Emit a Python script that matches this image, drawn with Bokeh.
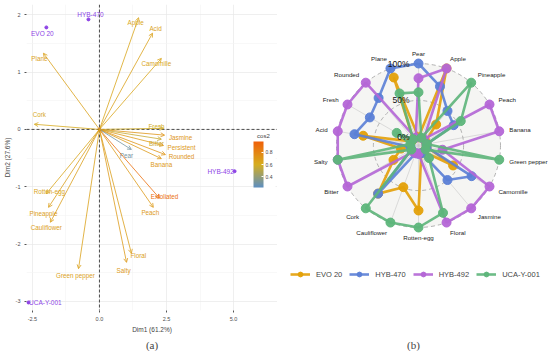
import numpy as np
from bokeh.plotting import figure
from bokeh.models import (ColumnDataSource, Arrow, OpenHead, Span, FixedTicker, ColorBar,
                          LinearColorMapper, Title, Legend, LegendItem, Label)
from bokeh.transform import transform
from bokeh.layouts import row
from bokeh.embed import file_html
from bokeh.resources import INLINE
from bokeh.core.properties import value

# ---------------- Panel (a): PCA biplot data ----------------
var_names = ["Apple", "Acid", "Camomille", "Plane", "Cork", "Fresh", "Jasmine", "Bitter",
             "Persistent", "Rounded", "Banana", "Pear", "Exfoliated", "Peach", "Floral",
             "Salty", "Green pepper", "Rotten-egg", "Pineapple", "Cauliflower"]
var_dim1 = [1.46, 1.98, 2.31, -2.09, -2.43, 2.39, 2.43, 2.31, 2.39, 2.46, 2.31, 1.19,
            2.24, 2.01, 1.19, 1.01, -0.78, -1.98, -1.90, -1.83]
var_dim2 = [1.95, 1.68, 1.24, 1.33, 0.09, 0.02, -0.10, -0.17, -0.28, -0.44, -0.51, -0.35,
            -1.20, -1.36, -2.16, -2.32, -2.43, -1.12, -1.36, -1.62]
var_cos2 = [0.64, 0.66, 0.64, 0.66, 0.62, 0.58, 0.72, 0.55, 0.70, 0.72, 0.70, 0.30,
            0.90, 0.70, 0.68, 0.70, 0.66, 0.64, 0.68, 0.68]

ind_names = ["EVO 20", "HYB-470", "HYB-492", "UCA-Y-001"]
ind_dim1 = [-1.98, -0.41, 5.04, -2.65]
ind_dim2 = [1.78, 1.92, -0.73, -3.02]

x_ticks = [-2.5, 0.0, 2.5, 5.0]
x_tick_labels = ["-2.5", "0.0", "2.5", "5.0"]
x_minor = [-1.25, 1.25, 3.75]
y_ticks = [-3, -2, -1, 0, 1, 2]
y_tick_labels = ["-3", "-2", "-1", "0", "1", "2"]
y_minor = [-2.5, -1.5, -0.5, 0.5, 1.5]
cb_ticks = [0.4, 0.6, 0.8]
cos2_low, cos2_high = 0.22, 0.98

# label offsets (screen px) for repelled text
var_dx = [-3, 3, -5, -4, 5, -7, 16, -5, 18, 16, 0, -5, 5, -3, 7, -3, -3, 3, -5, -4]
var_dy = [5, -5, 5, 5, -10, -2, 2, 4, 2, 2, 6, 6, -2, 5, 2, 8, 7, -2, 6, 5]
ind_dx = [-4, 2, -14, 17]
ind_dy = [6, -5, 0, 0]

# ---------------- Panel (b): radar data ----------------
radar_axes = ["Pear", "Apple", "Pineapple", "Peach", "Banana", "Green pepper", "Camomille",
              "Jasmine", "Floral", "Rotten-egg", "Cauliflower", "Cork", "Bitter", "Salty",
              "Acid", "Fresh", "Rounded", "Plane"]
series_names = ["EVO 20", "HYB-470", "HYB-492", "UCA-Y-001"]
evo20 = [0, 1.0, 0.26, 0, 0, 0, 0.43, 0, 0, 0.77, 0.49, 0.74, 0.28, 0.13, 0.65, 0, 0, 0.87]
hyb470 = [1.0, 0.74, 0.50, 0.44, 0, 0, 0.72, 0.50, 0, 0, 0, 0.74, 0, 0, 0.77, 0.65, 0.73, 1.0]
hyb492 = [0.80, 1.0, 0, 1.0, 1.0, 0.22, 1.0, 1.0, 1.0, 0, 0, 0, 1.0, 1.0, 1.0, 1.0, 1.0, 0]
uca = [0.61, 0, 1.0, 0.55, 0, 1.0, 0, 0.11, 0.86, 1.0, 1.0, 1.0, 0, 1.0, 0, 0.23, 0, 0.64]
grid_levels = [0.0, 0.5, 1.0]
grid_labels = ["0%", "50%", "100%"]
series_colors = ["#E3A008", "#5B7FD6", "#B466D6", "#5DB57A"]

FONT = "Liberation Sans"
FRAME_H = 306
TOP = 4


def gradient(colors, n=256):
    cs = [tuple(int(c[i:i + 2], 16) for i in (1, 3, 5)) for c in colors]
    out = []
    for k in range(n):
        t = k / (n - 1) * (len(cs) - 1)
        i = min(int(t), len(cs) - 2)
        f = t - i
        rgb = [round(cs[i][j] + (cs[i + 1][j] - cs[i][j]) * f) for j in range(3)]
        out.append("#%02x%02x%02x" % tuple(rgb))
    return out


palette = gradient(["#5C8FC2", "#D6AE1E", "#F0600A"])
mapper = LinearColorMapper(palette=palette, low=cos2_low, high=cos2_high)


def style_axis(ax, ticks, minor, labels):
    ax.ticker = FixedTicker(ticks=ticks, minor_ticks=minor)
    ax.major_label_overrides = {t: l for t, l in zip(ticks, labels)}
    ax.axis_line_color = None
    ax.major_tick_line_color = "#555555"
    ax.major_tick_out = 2
    ax.major_tick_in = 0
    ax.minor_tick_line_color = None
    ax.major_label_text_font_size = "5.5px"
    ax.major_label_text_color = "#4D4D4D"
    ax.major_label_text_font = FONT
    ax.major_label_standoff = 2
    ax.axis_label_text_font_size = "6.5px"
    ax.axis_label_text_font = FONT
    ax.axis_label_text_font_style = "normal"
    ax.axis_label_standoff = 2


# ---------------- Figure (a) ----------------
p1 = figure(frame_width=251, frame_height=FRAME_H, x_range=(-2.72, 6.64), y_range=(-3.16, 2.18),
            output_backend="svg", toolbar_location=None, title=None,
            min_border_left=0, min_border_right=0, min_border_top=TOP, min_border_bottom=0)
p1.outline_line_color = None
style_axis(p1.xaxis[0], x_ticks, x_minor, x_tick_labels)
style_axis(p1.yaxis[0], y_ticks, y_minor, y_tick_labels)
p1.xaxis.axis_label = "Dim1 (61.2%)"
p1.yaxis.axis_label = "Dim2 (27.6%)"

p1.xgrid.ticker = FixedTicker(ticks=x_ticks, minor_ticks=x_minor)
p1.ygrid.ticker = FixedTicker(ticks=y_ticks, minor_ticks=y_minor)
for g in (p1.xgrid[0], p1.ygrid[0]):
    g.grid_line_color = "#E8E8E8"
    g.grid_line_width = 0.7
    g.minor_grid_line_color = "#F3F3F3"
    g.minor_grid_line_width = 0.6

p1.add_layout(Span(location=0, dimension="height", line_color="#222222",
                   line_dash="3 2", line_width=0.8))
p1.add_layout(Span(location=0, dimension="width", line_color="#222222",
                   line_dash="3 2", line_width=0.8))

var_src = ColumnDataSource(dict(x=var_dim1, y=var_dim2, name=var_names, cos2=var_cos2,
                                dx=var_dx, dy=var_dy))
cmap = transform("cos2", mapper)
p1.add_layout(Arrow(end=OpenHead(size=4, line_width=0.8, line_color=cmap),
                    x_start=0, y_start=0, x_end="x", y_end="y", source=var_src,
                    line_color=cmap, line_width=0.8))
p1.text(x="x", y="y", text="name", source=var_src, text_color=cmap,
        x_offset="dx", y_offset="dy", text_align="center", text_baseline="middle",
        text_font_size="6.3px", text_font=value(FONT))
p1.scatter(x=[0], y=[0], size=3, color="#E05A5A")

ind_src = ColumnDataSource(dict(x=ind_dim1, y=ind_dim2, name=ind_names, dx=ind_dx, dy=ind_dy))
p1.scatter(x="x", y="y", source=ind_src, size=3, color="#8E44E6")
p1.text(x="x", y="y", text="name", source=ind_src, text_color="#8E44E6",
        x_offset="dx", y_offset="dy", text_align="center", text_baseline="middle",
        text_font_size="6.5px", text_font=value(FONT))

cb = ColorBar(color_mapper=mapper, ticker=FixedTicker(ticks=cb_ticks), width=10, height=46,
              title=None,
              major_label_text_font_size="5px", major_label_text_font=FONT,
              major_tick_line_color="white", major_tick_in=2, major_tick_out=0,
              label_standoff=2, padding=0, margin=0, bar_line_color=None,
              border_line_color=None, background_fill_color="white", background_fill_alpha=1,
              location=(227, 123))
p1.add_layout(cb, "center")
p1.add_layout(Label(x=5.88, y=-0.12, text="cos2", text_font=FONT, text_font_size="6px",
                    text_baseline="middle", text_align="left"))
p1.add_layout(Title(text="(a)", align="center", text_font="Liberation Serif",
                    text_font_size="11px", text_font_style="normal", offset=-12,
                    standoff=2), "below")

# ---------------- Figure (b) ----------------
S = 82.0               # px per radar unit
CX, CY = 141.0, 141.0  # radar centre inside the frame (px)
FW = 272
p2 = figure(frame_width=FW, frame_height=FRAME_H,
            x_range=(-CX / S, (FW - CX) / S), y_range=(CY / S - FRAME_H / S, CY / S),
            output_backend="svg", toolbar_location=None, y_axis_type=None,
            title=None,
            min_border_left=0, min_border_right=0, min_border_top=TOP, min_border_bottom=0)
p2.outline_line_color = None
p2.grid.visible = False
# invisible spacer axis so that "(b)" sits level with "(a)"
style_axis(p2.xaxis[0], [0.0], [], [" "])
p2.xaxis.major_tick_line_color = None
p2.xaxis.axis_label = " "

n = len(radar_axes)
theta = np.deg2rad(90 - 360.0 / n * np.arange(n))
centre = -1.0 / 9.0


def rad(v):
    return (np.asarray(v, dtype=float) - centre) / (1 - centre)


p2.circle(x=[0], y=[0], radius=float(rad(1.0)), fill_color="#D7D6D1", fill_alpha=0.25,
          line_color=None)
ax_r = float(rad(1.0))
p2.segment(x0=np.zeros(n), y0=np.zeros(n), x1=ax_r * np.cos(theta), y1=ax_r * np.sin(theta),
           line_color="#C8C8C8", line_width=0.6)
for lv in grid_levels:
    p2.circle(x=[0], y=[0], radius=float(rad(lv)), fill_color=None, line_color="#A0A0A0",
              line_dash="4 3", line_width=0.8)

rend_items = []
for name, vals, col in zip(series_names, [evo20, hyb470, hyb492, uca], series_colors):
    r = rad(vals)
    xs = list(r * np.cos(theta)) + [r[0] * np.cos(theta[0])]
    ys = list(r * np.sin(theta)) + [r[0] * np.sin(theta[0])]
    lr = p2.line(xs, ys, line_color=col, line_width=2.6, line_alpha=0.9)
    sr = p2.scatter(list(r * np.cos(theta)), list(r * np.sin(theta)), size=9,
                    fill_color=col, line_color=col, alpha=0.95)
    rend_items.append(LegendItem(label=name, renderers=[lr, sr]))

lab_r = 1.125
cosv = np.cos(theta)
aligns = ["left" if c > 0.1 else ("right" if c < -0.1 else "center") for c in cosv]
p2.text(x=list(lab_r * cosv), y=list(lab_r * np.sin(theta)), text=radar_axes,
        text_align=aligns, text_baseline="middle", text_font_size="6.2px",
        text_font=value(FONT), text_color="#222222")

p2.text(x=[-0.11] * len(grid_levels), y=[float(rad(v)) for v in grid_levels], text=grid_labels,
        text_align="right", text_baseline="middle", text_font_size="8.5px",
        text_font=value(FONT), text_color="#111111")

legend = Legend(items=rend_items, orientation="horizontal", location=(13, 30),
                glyph_width=20, glyph_height=12, label_text_font_size="7.5px",
                label_text_font=FONT, label_standoff=6, spacing=7, padding=0, margin=0,
                border_line_color=None, background_fill_alpha=0)
p2.add_layout(legend)

p2.add_layout(Title(text="(b)", align="center", text_font="Liberation Serif",
                    text_font_size="11px", text_font_style="normal", offset=-4,
                    standoff=2), "below")

layout = row(p1, p2, spacing=0)
open("out.html", "w").write(file_html(layout, INLINE))
